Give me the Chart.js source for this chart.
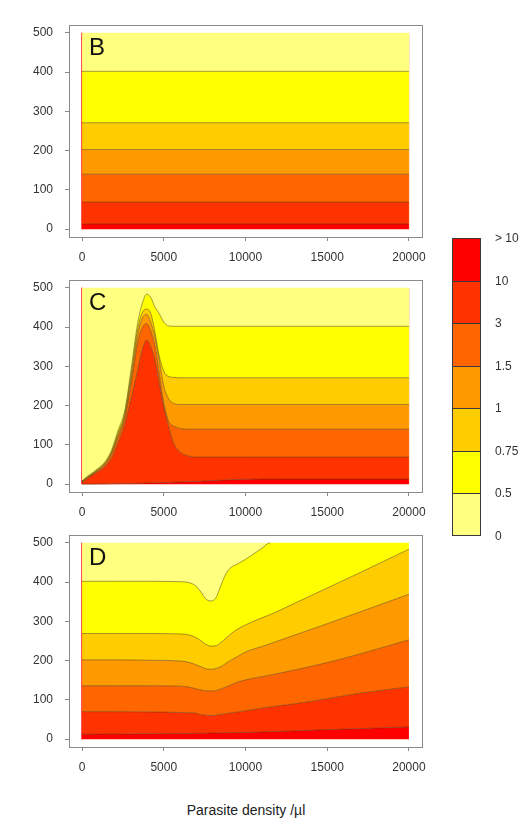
<!DOCTYPE html>
<html>
<head>
<meta charset="utf-8">
<script src="https://cdn.jsdelivr.net/npm/chart.js@4.4.1/dist/chart.umd.min.js"></script>
<style>
  body { margin: 0; background: #fff; width: 523px; height: 829px; position: relative; overflow: hidden;
         font-family: 'Liberation Sans', Arial, sans-serif; }
  canvas { position: absolute; left: 0; }
  .box { position: absolute; left: 452px; width: 29px; box-sizing: border-box;
         border: 1px solid #3a3a3a; border-bottom: none; }
  .lvl { position: absolute; left: 495px; font-size: 12px; color: #333; transform: translateY(-50%); line-height: 1; }
  #xTitle { position: absolute; top: 802px; left: 0; width: 492px; text-align: center; font-size: 14px; color: #222; }
</style>
</head>
<body>
<canvas id="panelB" width="523" height="270" style="top:0px"></canvas>
<canvas id="panelC" width="523" height="270" style="top:255px"></canvas>
<canvas id="panelD" width="523" height="270" style="top:510px"></canvas>
<div id="legend"></div>
<div id="xTitle">Parasite density /µl</div>

<script>
const xTicks = [0, 5000, 10000, 15000, 20000];
const yTicks = [0, 100, 200, 300, 400, 500];
const levelLabels = ['> 10', '10', '3', '1.5', '1', '0.75', '0.5', '0'];
// band colours, bottom band (> 10) first
const bandColors = ['#FF0000', '#FF3300', '#FF6600', '#FF9900', '#FFCC00', '#FFFF00', '#FFFF80'];

// panel B - flat contours
const xB = [0, 20000];
const b10 = [13, 13];
const b3 = [69, 69];
const b15 = [140, 140];
const b1 = [203, 203];
const b075 = [271, 271];
const b05 = [402, 402];

// panel C - peak near 4000
const xC = [0, 200, 600, 1000, 1400, 1800, 2200, 2600, 3000, 3400, 3700, 3950, 4200, 4450, 4700, 5000, 5300, 5600, 6000, 6400, 7000, 8000, 10000, 12000, 20000];
const c10 = [0, 0, 0, 0.5, 0.5, 1, 1, 1.5, 1.5, 2, 2.5, 3, 3, 3.5, 4, 4, 4.5, 5, 5.5, 6, 7, 9, 12.5, 13, 13];
const c3 = [4, 10, 22, 32, 45, 66, 105, 150, 218, 290, 345, 367, 350, 317, 262, 196, 146, 105, 82, 73, 69, 69, 69, 69, 69];
const c15 = [5, 12, 24, 35, 49, 75, 118, 165, 255, 360, 400, 409, 390, 352, 287, 206, 160, 148, 142, 140, 140, 140, 140, 140, 140];
const c1 = [6, 13, 25, 37, 52, 79, 125, 172, 268, 380, 424, 433, 412, 376, 320, 250, 217, 206, 203, 203, 203, 203, 203, 203, 203];
const c075 = [7, 14, 26, 39, 54, 82, 130, 178, 280, 395, 438, 446, 435, 390, 330, 288, 274, 272, 271, 271, 271, 271, 271, 271, 271];
const c05 = [8, 16, 28, 41, 57, 86, 137, 185, 292, 410, 462, 484, 476, 452, 436, 413, 403, 402, 402, 402, 402, 402, 402, 402, 402];

// panel D - dip near 8000 then rising
const xD = [0, 2000, 4000, 6000, 6600, 7000, 7300, 7600, 7900, 8200, 8500, 8800, 9100, 9500, 10000, 11000, 11500, 13000, 15000, 17000, 20000];
const d10 = [12.5, 13, 13.5, 14, 14.5, 15, 15, 15, 15.5, 15.5, 16, 16, 16.5, 16.5, 17, 18, 19, 21, 24, 27, 31];
const d3 = [70, 70, 69.5, 68, 67, 66, 62, 61, 60, 61, 63, 65, 67, 69, 72, 79, 82, 90, 103, 117, 133];
const d15 = [136, 136, 136, 135, 132, 128, 125, 123, 123, 124, 128, 133, 138, 145, 151, 159, 163, 176, 195, 217, 253];
const d1 = [202, 202, 201, 199, 195, 189, 184, 179, 178, 180, 185, 193, 201, 210, 222, 236, 243, 265, 294, 324, 369];
const d075 = [269, 269, 269, 268, 265, 258, 250, 241, 237, 238, 246, 257, 268, 280, 291, 309, 317, 346, 385, 424, 484];
const d05 = [402, 402, 402, 401, 398, 389, 373, 356, 352, 361, 392, 421, 437, 446, 458, 486, 500, 500, 500, 500, 500];

const yMax = 500;
const lineCol = 'rgba(70,50,0,0.6)';

// legend bar, top box is the "> 10" band
const legend = document.getElementById('legend');
for (let i = 0; i < 7; i++) {
  const box = document.createElement('div');
  box.className = 'box';
  box.style.top = (238 + i * 42.5) + 'px';
  box.style.height = '42.5px';
  box.style.background = bandColors[i];
  if (i === 6) box.style.borderBottom = '1px solid #3a3a3a';
  legend.appendChild(box);
}
levelLabels.forEach((t, i) => {
  const l = document.createElement('div');
  l.className = 'lvl';
  l.style.top = (238 + i * 42.5) + 'px';
  l.textContent = t;
  legend.appendChild(l);
});

const frame = {
  id: 'frame',
  afterDraw(chart, args, opts) {
    const { ctx, chartArea: a } = chart;
    ctx.save();
    ctx.strokeStyle = '#8a8a8a';
    ctx.lineWidth = 1;
    ctx.strokeRect(Math.round(a.left) + 0.5, Math.round(a.top) + 0.5, Math.round(a.width), Math.round(a.height));
    ctx.fillStyle = '#111';
    ctx.font = "24px 'Liberation Sans', Arial, sans-serif";
    ctx.fillText(opts.letter, a.left + 20, a.top + 30);
    ctx.restore();
  }
};

function makePanel(id, letter, xs, levels, showRight) {
  const pts = ys => xs.map((x, i) => ({ x: x, y: ys[i] }));
  const datasets = [{
    data: pts(xs.map(() => 0)), borderWidth: 0, pointRadius: 0, fill: false
  }];
  levels.forEach((ys, i) => {
    datasets.push({
      data: pts(ys),
      fill: '-1',
      backgroundColor: bandColors[i],
      borderColor: lineCol,
      borderWidth: 0.8,
      pointRadius: 0,
      cubicInterpolationMode: 'monotone',
      segment: {
        borderColor: c => (c.p0.parsed.y >= yMax && c.p1.parsed.y >= yMax) ? 'rgba(0,0,0,0)' : undefined
      }
    });
  });
  datasets.push({
    data: pts(xs.map(() => yMax)), fill: '-1', backgroundColor: bandColors[6], borderWidth: 0, pointRadius: 0
  });
  datasets.push({
    data: [{ x: xTicks[0], y: 0 }, { x: xTicks[0], y: yMax }], borderColor: '#FF0000', borderWidth: 1.5, pointRadius: 0, fill: false
  });
  if (showRight) {
    datasets.push({
      data: [{ x: xTicks[4], y: 0 }, { x: xTicks[4], y: yMax }], borderColor: 'rgba(255,150,60,0.6)', borderWidth: 1, pointRadius: 0, fill: false
    });
  }
  const tickFont = { family: "'Liberation Sans', Arial, sans-serif", size: 12 };
  return new Chart(document.getElementById(id), {
    type: 'line',
    data: { datasets: datasets },
    plugins: [frame],
    options: {
      responsive: false,
      animation: false,
      layout: { padding: { left: 0, right: 101, top: 25, bottom: 0 } },
      plugins: { legend: { display: false }, tooltip: { enabled: false }, frame: { letter: letter } },
      scales: {
        x: {
          type: 'linear', min: -800, max: 20800,
          afterBuildTicks: s => { s.ticks = xTicks.map(v => ({ value: v })); },
          afterFit: s => { s.height = 33; },
          grid: { drawOnChartArea: false, drawTicks: true, tickLength: 4, color: '#8a8a8a' },
          border: { display: false },
          ticks: { autoSkip: false, maxRotation: 0, padding: 9, color: '#333', font: tickFont, callback: v => String(v) }
        },
        y: {
          type: 'linear', min: -20, max: 520,
          afterBuildTicks: s => { s.ticks = yTicks.map(v => ({ value: v })); },
          afterFit: s => { s.width = 69; },
          grid: { drawOnChartArea: false, drawTicks: true, tickLength: 4, color: '#8a8a8a' },
          border: { display: false },
          ticks: { padding: 12, color: '#333', font: tickFont, callback: v => String(v) }
        }
      }
    }
  });
}

makePanel('panelB', 'B', xB, [b10, b3, b15, b1, b075, b05], true);
makePanel('panelC', 'C', xC, [c10, c3, c15, c1, c075, c05], true);
makePanel('panelD', 'D', xD, [d10, d3, d15, d1, d075, d05], false);
</script>
</body>
</html>
